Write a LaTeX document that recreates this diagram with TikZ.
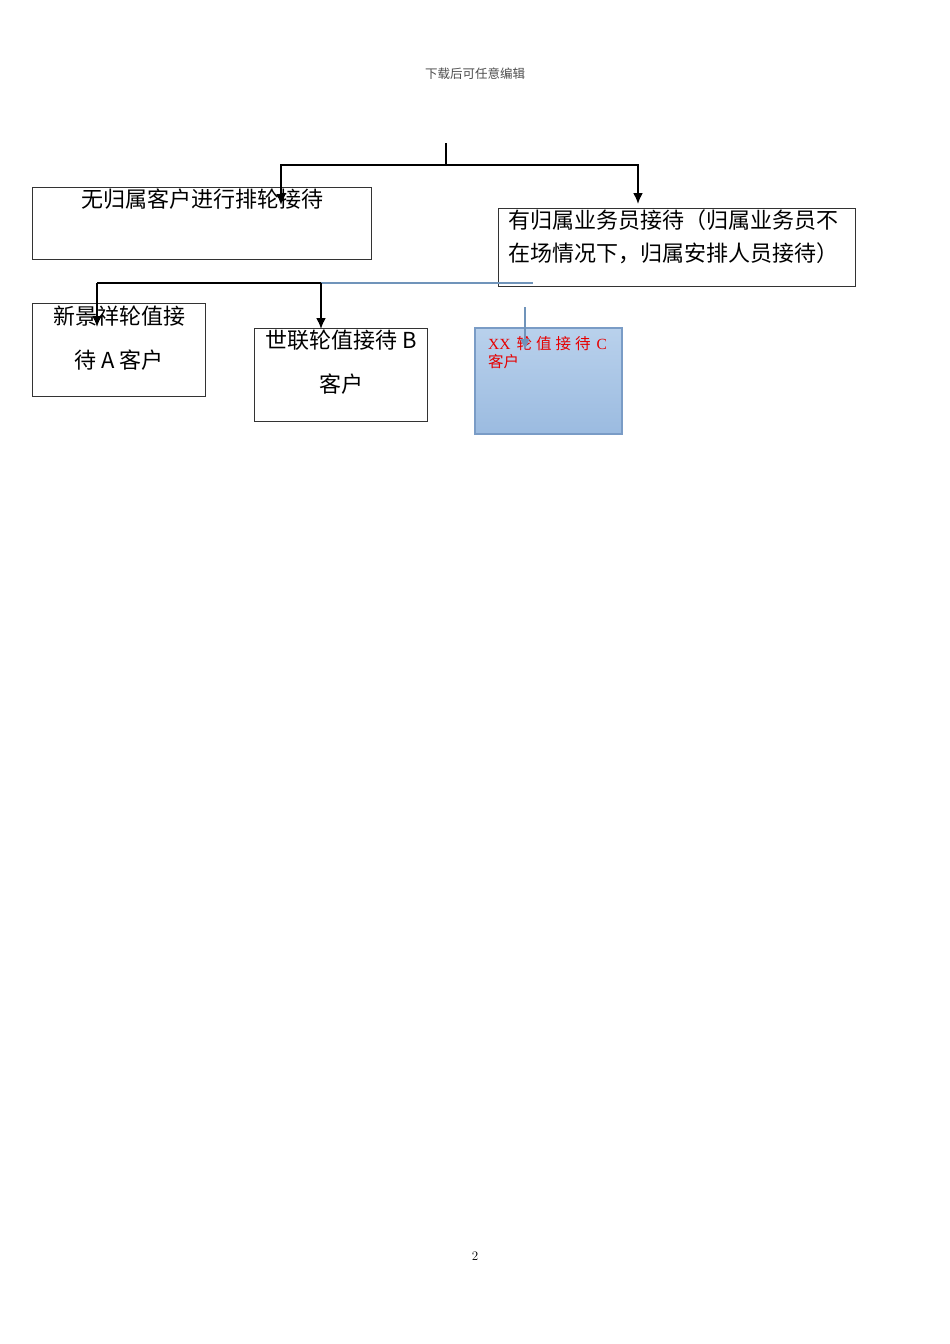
\documentclass[tikz,border=0pt]{standalone}
\usepackage{fontspec}
\usepackage{xcolor}
\usepackage{tikz}
\usetikzlibrary{positioning,arrows.meta}
\newfontfamily\cjk{Noto Sans CJK SC}
\newfontfamily\latinserif{Liberation Serif}

\definecolor{boxblue}{RGB}{122,156,198}
\definecolor{linkblue}{RGB}{112,148,186}
\definecolor{fillblue}{RGB}{185,209,236}
\definecolor{fillblue2}{RGB}{155,187,224}
\definecolor{redtext}{RGB}{230,0,0}

\tikzset{
  box/.style={draw=black!80, line width=0.8pt, inner sep=0pt, anchor=north west},
  bigtext/.style={font=\cjk\fontsize{22}{33}\selectfont, inner sep=0pt},
  redline/.style={font=\cjk\fontsize{15.5}{18}\selectfont, text=redtext, anchor=west, inner sep=0pt},
  link/.style={line width=2pt, >={Latex[length=11pt, width=10pt]}, black},
  bluelink/.style={line width=1.6pt, >={Latex[length=11pt, width=10pt]}, linkblue},
}

\begin{document}
\begin{tikzpicture}[x=1pt, y=-1pt]
					\useasboundingbox (0, 0) rectangle (950, 1344);
					
					\node[font=\cjk\fontsize{12.5}{14}\selectfont, text=black!70] (header) at (475, 74) {下载后可任意编辑};
					\node[font=\fontsize{13}{15}\selectfont] (pagenum) at (475, 1256) {2};
					
					\coordinate (Top) at (446, 143);
					\coordinate (Split) at (446, 165);
					\coordinate (FreeIn) at (281, 205);
					\coordinate (OwnerIn) at (638, 204);
					
					\node[box, minimum width=339, minimum height=72] (Free) at (32, 187) {};
					\node[bigtext] (FreeText) at (202, 199) {无归属客户进行排轮接待};
					
					\node[box, minimum width=357, minimum height=78] (Owner) at (498, 208) {};
					\node[bigtext, anchor=west] (OwnerText1) at (508, 220) {有归属业务员接待（归属业务员不};
					\node[bigtext, anchor=west] (OwnerText2) at (508, 253) {在场情况下，归属安排人员接待）};
					
					\draw[link] (Top) -- (Split);
					\draw[link, ->] (Split) -| (FreeIn);
					\draw[link, ->] (Split) -| (OwnerIn);
					
					\coordinate (SplitA) at (97, 283);
					\coordinate (SplitB) at (321, 283);
					\coordinate (BlueEnd) at (533, 283);
					\coordinate (BlueTop) at (525, 307);
					\coordinate (AIn) at (97, 327);
					\coordinate (BIn) at (321, 329);
					\coordinate (CIn) at (525, 350);
					
					\node[box, minimum width=173, minimum height=93] (RotA) at (32, 303) {};
					\node[bigtext] (RotAText1) at (119, 316) {新景祥轮值接};
					\node[bigtext] (RotAText2) at (119, 360) {待 A 客户};
					
					\node[box, minimum width=173, minimum height=93] (RotB) at (254, 328) {};
					\node[bigtext] (RotBText1) at (341, 340) {世联轮值接待 B};
					\node[bigtext] (RotBText2) at (341, 384) {客户};
					
					\node[box, draw=boxblue, line width=2pt, top color=fillblue, bottom color=fillblue2, minimum width=147, minimum height=106] (RotC) at (474, 327) {};
					\node[redline] (RotCText1) at (488, 344) {{\latinserif XX}\hspace{6pt}轮\hspace{4pt}值\hspace{4pt}接\hspace{4pt}待\hspace{6pt}{\latinserif C}};
					\node[redline] (RotCText2) at (488, 362) {客户};
					
					\draw[bluelink] (SplitB) -- (BlueEnd);
					\draw[link] (SplitA) -- (SplitB);
					\draw[link, ->] (SplitA) -- (AIn);
					\draw[link, ->] (SplitB) -- (BIn);
					\draw[bluelink, ->] (BlueTop) -- (CIn);
					\end{tikzpicture}
\end{document}
